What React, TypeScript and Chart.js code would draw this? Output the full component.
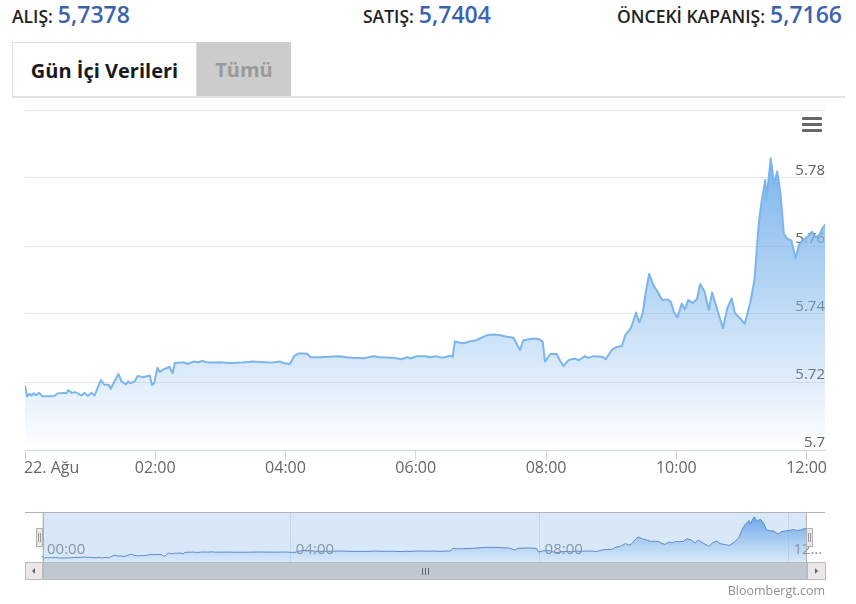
import React, { useEffect, useRef } from 'react';
import { Chart, registerables } from 'chart.js';

Chart.register(...registerables);

// ---- data ----
const quoteLabels = ['ALIŞ:', 'SATIŞ:', 'ÖNCEKİ KAPANIŞ:'];
const quoteValues = ['5,7378', '5,7404', '5,7166'];
const tabLabels = ['Gün İçi Verileri', 'Tümü'];

// minutes after 00:00, 22 Aug
const times = [
  0, 2, 4, 6, 8, 10, 13, 16, 22, 27, 30, 35, 38, 40, 43, 46, 49, 52, 55, 58,
  61, 64, 70, 73, 77, 79, 86, 89, 93, 95, 97, 101, 104, 109, 112, 115, 117, 119, 122, 124,
  128, 131, 133, 136, 138, 143, 146, 150, 155, 160, 163, 167, 170, 179, 189, 200, 210, 220, 226, 235,
  239, 244, 248, 252, 257, 260, 263, 272, 280, 289, 296, 302, 312, 321, 327, 333, 340, 347, 352, 355,
  361, 369, 373, 379, 383, 386, 392, 394, 396, 400, 404, 410, 415, 419, 426, 433, 439, 444, 450, 456,
  459, 464, 469, 474, 477, 479, 484, 490, 493, 496, 501, 507, 510, 516, 519, 524, 532, 535, 541, 546,
  550, 553, 558, 560, 563, 566, 569, 572, 575, 579, 584, 587, 592, 595, 598, 601, 605, 608, 611, 615,
  619, 622, 626, 630, 633, 638, 643, 647, 651, 654, 659, 663, 668, 672, 676, 679, 682, 683, 687, 690,
  693, 696, 699, 702, 706, 710, 713, 717, 721, 725, 728, 732, 734, 737,
];
const rates = [
  5.7188, 5.7157, 5.7165, 5.7160, 5.7167, 5.7161, 5.7168, 5.7158, 5.7158, 5.7159, 5.7166, 5.7168, 5.7167, 5.7176, 5.7168, 5.7170, 5.7166, 5.7160, 5.7168, 5.7159,
  5.7168, 5.7160, 5.7206, 5.7192, 5.7192, 5.7180, 5.7224, 5.7202, 5.7193, 5.7202, 5.7196, 5.7202, 5.7218, 5.7214, 5.7217, 5.7219, 5.7191, 5.7196, 5.7242, 5.7230,
  5.7238, 5.7241, 5.7245, 5.7226, 5.7256, 5.7257, 5.7258, 5.7253, 5.7260, 5.7258, 5.7262, 5.7258, 5.7257, 5.7258, 5.7256, 5.7257, 5.7260, 5.7258, 5.7257, 5.7260,
  5.7255, 5.7253, 5.7276, 5.7284, 5.7284, 5.7283, 5.7273, 5.7273, 5.7274, 5.7276, 5.7273, 5.7271, 5.7270, 5.7276, 5.7273, 5.7272, 5.7271, 5.7267, 5.7273, 5.7269,
  5.7276, 5.7276, 5.7273, 5.7276, 5.7272, 5.7273, 5.7277, 5.7274, 5.7319, 5.7316, 5.7314, 5.7320, 5.7322, 5.7328, 5.7338, 5.7340, 5.7337, 5.7333, 5.7330, 5.7294,
  5.7322, 5.7326, 5.7328, 5.7326, 5.7318, 5.7260, 5.7282, 5.7282, 5.7262, 5.7247, 5.7265, 5.7269, 5.7264, 5.7276, 5.7271, 5.7276, 5.7274, 5.7267, 5.7296, 5.7304,
  5.7306, 5.7338, 5.7358, 5.7375, 5.7404, 5.7375, 5.7402, 5.7466, 5.7518, 5.7485, 5.7459, 5.7441, 5.7443, 5.7436, 5.7404, 5.7390, 5.7431, 5.7414, 5.7441, 5.7433,
  5.7443, 5.7488, 5.7466, 5.7412, 5.7463, 5.7410, 5.7358, 5.7417, 5.7446, 5.7402, 5.7387, 5.7371, 5.7431, 5.7500, 5.7667, 5.7740, 5.7794, 5.7735, 5.7858, 5.7784,
  5.7819, 5.7755, 5.7637, 5.7622, 5.7616, 5.7564, 5.7603, 5.7618, 5.7627, 5.7642, 5.7627, 5.7632, 5.7649, 5.7662,
];

const mainTickMinutes = [0, 120, 240, 360, 480, 600, 720];
const mainTickLabels = ['22. Ağu', '02:00', '04:00', '06:00', '08:00', '10:00', '12:00'];
const navTickMinutes = [0, 240, 480, 720];
const navTickLabels = ['00:00', '04:00', '08:00', '12:00'];
const creditText = 'Bloombergt.com';

const FONT = "'Open Sans', 'DejaVu Sans', sans-serif";

const points = () => times.map((t, i) => ({ x: t, y: rates[i] }));
const maxRate = Math.max(...rates);

export default function App() {
  const mainRef = useRef<HTMLCanvasElement>(null);
  const navRef = useRef<HTMLCanvasElement>(null);

  useEffect(() => {
    const mainLabels = {
      id: 'mainLabels',
      afterDraw(chart: any) {
        const { ctx, chartArea } = chart;
        const sx = chart.scales.x;
        ctx.save();
        ctx.font = `16px ${FONT}`;
        ctx.fillStyle = '#666666';
        ctx.textBaseline = 'middle';
        sx.ticks.forEach((t: any, i: number) => {
          const px = sx.getPixelForValue(t.value);
          const label = mainTickLabels[i] ?? '';
          if (i === 0) {
            ctx.textAlign = 'left';
            ctx.fillText(label, px - 1, chartArea.bottom + 18);
          } else {
            ctx.textAlign = 'center';
            ctx.fillText(label, px, chartArea.bottom + 18);
          }
        });
        ctx.restore();
      },
    };

    const main = new Chart(mainRef.current!, {
      type: 'line',
      data: {
        datasets: [
          {
            data: points(),
            borderColor: '#7cb5ec',
            borderWidth: 2,
            borderJoinStyle: 'round',
            borderCapStyle: 'round',
            pointRadius: 0,
            tension: 0,
            fill: 'start',
            backgroundColor: (c: any) => {
              const chart = c.chart;
              const { ctx, chartArea, scales } = chart;
              if (!chartArea || !scales.y) return 'rgba(124,181,236,0.4)';
              const top = scales.y.getPixelForValue(maxRate);
              const g = ctx.createLinearGradient(0, top, 0, chartArea.bottom);
              g.addColorStop(0, 'rgba(124,181,236,1)');
              g.addColorStop(1, 'rgba(124,181,236,0)');
              return g;
            },
          },
        ],
      },
      options: {
        animation: false,
        responsive: false,
        events: [],
        layout: { padding: { left: 25, right: 31, top: 10, bottom: 20 } },
        plugins: { legend: { display: false }, tooltip: { enabled: false } },
        scales: {
          x: {
            type: 'linear',
            min: 0,
            max: 737,
            bounds: 'data',
            afterBuildTicks: (scale: any) => {
              scale.ticks = mainTickMinutes.map((v) => ({ value: v }));
            },
            ticks: { display: false },
            grid: { drawOnChartArea: false, drawTicks: true, tickLength: 10, color: '#ccd6eb' },
            border: { display: true, color: '#ccd6eb' },
          },
          y: {
            position: 'right',
            min: 5.7,
            max: 5.8,
            ticks: {
              stepSize: 0.02,
              mirror: true,
              padding: 0,
              labelOffset: -7,
              color: '#606060',
              font: { size: 15, family: FONT },
              callback: (v: any) => {
                const n = +(+v).toFixed(2);
                return n >= 5.8 ? '' : String(n);
              },
            },
            grid: { color: '#e6e6e6', drawTicks: false },
            border: { display: false },
          },
        },
      },
      plugins: [mainLabels],
    } as any);

    const navDecor = {
      id: 'navDecor',
      afterDraw(chart: any) {
        const { ctx, chartArea } = chart;
        const sx = chart.scales.x;
        const W = chart.width;
        ctx.save();
        // labels
        ctx.font = `15px ${FONT}`;
        ctx.fillStyle = '#8a8a8a';
        ctx.textBaseline = 'middle';
        ctx.textAlign = 'left';
        const maxRight = W - 31;
        sx.ticks.forEach((t: any, i: number) => {
          const px = sx.getPixelForValue(t.value) + 5;
          let label = navTickLabels[i] ?? '';
          if (px + ctx.measureText(label).width > maxRight) {
            while (label.length > 1 && px + ctx.measureText(label + '…').width > maxRight) {
              label = label.slice(0, -1);
            }
            label = label + '…';
          }
          ctx.fillText(label, px, chartArea.bottom - 12);
        });
        // mask over selected range
        const l = chartArea.left + 1;
        const r = chartArea.right;
        ctx.fillStyle = 'rgba(128,179,236,0.3)';
        ctx.fillRect(l, chartArea.top, r - l, chartArea.bottom - chartArea.top);
        // outline
        ctx.strokeStyle = '#b2b1b6';
        ctx.lineWidth = 1;
        ctx.beginPath();
        ctx.moveTo(25, chartArea.top + 0.5);
        ctx.lineTo(W - 31, chartArea.top + 0.5);
        ctx.moveTo(l + 0.5, chartArea.top);
        ctx.lineTo(l + 0.5, chartArea.bottom);
        ctx.moveTo(r + 0.5, chartArea.top);
        ctx.lineTo(r + 0.5, chartArea.bottom);
        ctx.stroke();
        // handles
        const hy = chartArea.top + 16;
        const drawHandle = (x: number) => {
          ctx.fillStyle = '#ebe7e8';
          ctx.strokeStyle = '#b2b1b6';
          ctx.fillRect(x, hy, 6, 18);
          ctx.strokeRect(x + 0.5, hy + 0.5, 6, 18);
          ctx.strokeStyle = '#999999';
          ctx.beginPath();
          ctx.moveTo(x + 2.5, hy + 5);
          ctx.lineTo(x + 2.5, hy + 14);
          ctx.moveTo(x + 4.5, hy + 5);
          ctx.lineTo(x + 4.5, hy + 14);
          ctx.stroke();
        };
        drawHandle(l - 7);
        drawHandle(r);
        ctx.restore();
      },
    };

    const nav = new Chart(navRef.current!, {
      type: 'line',
      data: {
        datasets: [
          {
            data: points(),
            borderColor: '#4f79b4',
            borderWidth: 1,
            pointRadius: 0,
            tension: 0,
            fill: 'start',
            backgroundColor: (c: any) => {
              const chart = c.chart;
              const { ctx, chartArea, scales } = chart;
              if (!chartArea || !scales.y) return 'rgba(124,181,236,0.4)';
              const top = scales.y.getPixelForValue(maxRate);
              const g = ctx.createLinearGradient(0, top, 0, chartArea.bottom);
              g.addColorStop(0, 'rgba(100,160,230,1)');
              g.addColorStop(1, 'rgba(124,181,236,0)');
              return g;
            },
          },
        ],
      },
      options: {
        animation: false,
        responsive: false,
        events: [],
        layout: { padding: { left: 42, right: 50, top: 7, bottom: 3 } },
        plugins: { legend: { display: false }, tooltip: { enabled: false } },
        scales: {
          x: {
            type: 'linear',
            min: 0,
            max: 737,
            bounds: 'data',
            afterBuildTicks: (scale: any) => {
              scale.ticks = navTickMinutes.map((v) => ({ value: v }));
            },
            ticks: { display: false },
            grid: { drawOnChartArea: true, drawTicks: false, color: '#e6e6e6' },
            border: { display: false },
          },
          y: {
            display: false,
            min: 5.709,
            max: 5.794,
          },
        },
      },
      plugins: [navDecor],
    } as any);

    return () => {
      main.destroy();
      nav.destroy();
    };
  }, []);

  const quoteStyle = (i: number): React.CSSProperties =>
    i === 0 ? { left: 12 } : i === 1 ? { left: 363 } : { right: 14 };

  return (
    <div
      style={{
        position: 'absolute',
        left: 0,
        top: 0,
        width: 856,
        height: 604,
        background: '#ffffff',
        fontFamily: FONT,
        overflow: 'hidden',
      }}
    >
      {quoteLabels.map((lab, i) => (
        <div
          key={lab}
          style={{
            position: 'absolute',
            top: 0,
            ...quoteStyle(i),
            whiteSpace: 'nowrap',
            lineHeight: '28px',
          }}
        >
          <span style={{ fontSize: 17.5, fontWeight: 600, color: '#222' }}>{lab}</span>
          <span style={{ fontSize: 23, fontWeight: 600, color: '#3b63ad', marginLeft: 5 }}>
            {quoteValues[i]}
          </span>
        </div>
      ))}

      {/* tabs */}
      <div
        style={{
          position: 'absolute',
          left: 12,
          top: 42,
          width: 183,
          height: 55,
          border: '1px solid #dddddd',
          borderBottom: 'none',
          background: '#fff',
          display: 'flex',
          alignItems: 'center',
          justifyContent: 'center',
          fontSize: 20,
          fontWeight: 700,
          color: '#1a1a1a',
        }}
      >
        {tabLabels[0]}
      </div>
      <div
        style={{
          position: 'absolute',
          left: 197,
          top: 42,
          width: 94,
          height: 55,
          background: '#cccccc',
          display: 'flex',
          alignItems: 'center',
          justifyContent: 'center',
          fontSize: 20,
          fontWeight: 700,
          color: '#999999',
        }}
      >
        {tabLabels[1]}
      </div>
      <div
        style={{ position: 'absolute', left: 12, top: 96, width: 833, height: 2, background: '#e3e3e3' }}
      />

      <canvas
        ref={mainRef}
        width={856}
        height={380}
        style={{ position: 'absolute', left: 0, top: 100, width: 856, height: 380 }}
      />

      {/* context menu icon */}
      {[0, 1, 2].map((k) => (
        <div
          key={k}
          style={{
            position: 'absolute',
            left: 802,
            top: 117 + k * 6,
            width: 20,
            height: 3,
            background: '#666',
            borderRadius: 1,
          }}
        />
      ))}

      <canvas
        ref={navRef}
        width={856}
        height={60}
        style={{ position: 'absolute', left: 0, top: 505, width: 856, height: 60 }}
      />

      {/* scrollbar */}
      <div
        style={{
          position: 'absolute',
          left: 25,
          top: 562,
          width: 800,
          height: 17,
          background: '#eeeeee',
        }}
      />
      <div
        style={{
          position: 'absolute',
          left: 25,
          top: 562,
          width: 16,
          height: 16,
          background: '#ebe7e8',
          border: '1px solid #bbbbbb',
          boxSizing: 'content-box',
        }}
      >
        <div
          style={{
            position: 'absolute',
            left: 6,
            top: 5,
            width: 0,
            height: 0,
            borderTop: '3px solid transparent',
            borderBottom: '3px solid transparent',
            borderRight: '3px solid #666',
          }}
        />
      </div>
      <div
        style={{
          position: 'absolute',
          left: 43,
          top: 562,
          width: 762,
          height: 16,
          background: '#bfc8d1',
          border: '1px solid #bbbbbb',
          boxSizing: 'content-box',
        }}
      >
        {[0, 1, 2].map((k) => (
          <div
            key={k}
            style={{
              position: 'absolute',
              left: 378 + k * 3,
              top: 5,
              width: 1,
              height: 7,
              background: '#666',
            }}
          />
        ))}
      </div>
      <div
        style={{
          position: 'absolute',
          left: 807,
          top: 562,
          width: 17,
          height: 16,
          background: '#ebe7e8',
          border: '1px solid #bbbbbb',
          boxSizing: 'content-box',
        }}
      >
        <div
          style={{
            position: 'absolute',
            left: 7,
            top: 5,
            width: 0,
            height: 0,
            borderTop: '3px solid transparent',
            borderBottom: '3px solid transparent',
            borderLeft: '3px solid #666',
          }}
        />
      </div>

      <div
        style={{
          position: 'absolute',
          right: 31,
          top: 582,
          fontSize: 12.5,
          color: '#909090',
          whiteSpace: 'nowrap',
        }}
      >
        {creditText}
      </div>
    </div>
  );
}
